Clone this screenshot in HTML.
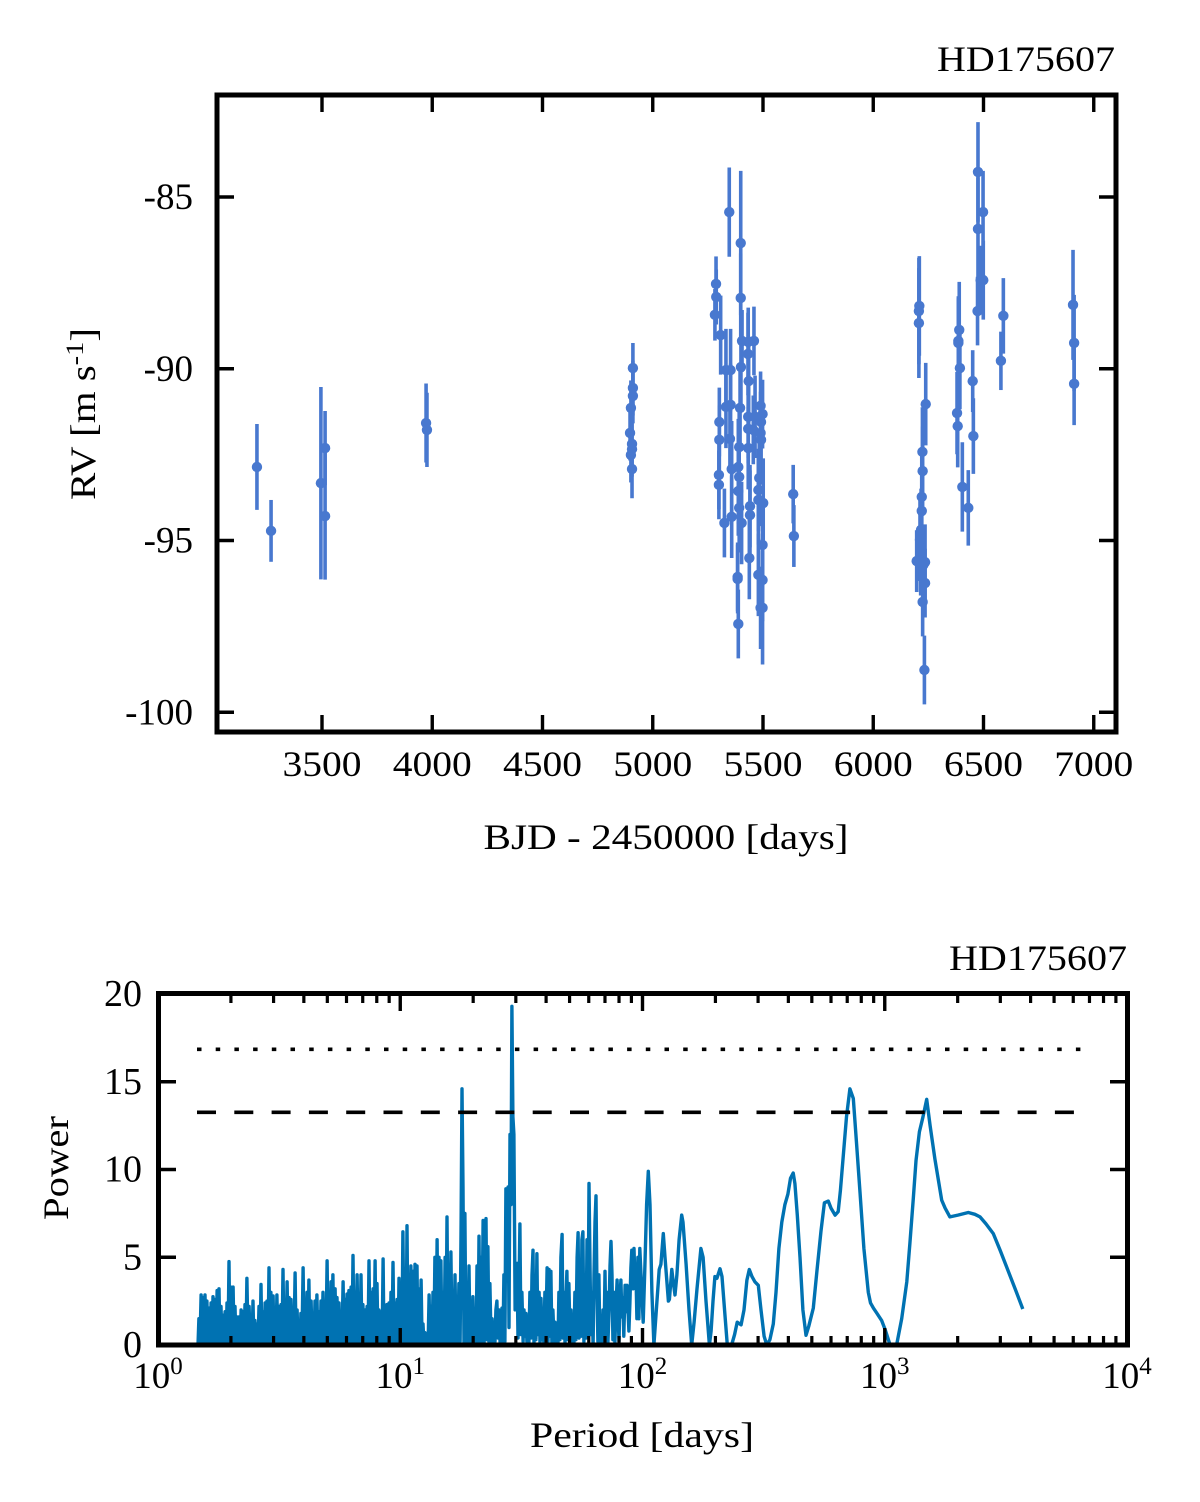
<!DOCTYPE html>
<html lang="en">
<head>
<meta charset="utf-8">
<title>HD175607 radial velocity and periodogram</title>
<style>
html,body{margin:0;padding:0;background:#fff;}
svg{display:block;}
text{font-family:"Liberation Serif",serif;font-size:36px;fill:#000;}
</style>
</head>
<body>
<svg id="fig" xmlns="http://www.w3.org/2000/svg" width="1200" height="1502" viewBox="0 0 1200 1502">
  <g id="rv-panel">
    <text x="1115" y="71" text-anchor="end" textLength="178" lengthAdjust="spacingAndGlyphs">HD175607</text>
    <g id="rv-marks"></g>
    <g id="rv-axes"></g>
    <rect x="217" y="95" width="899" height="637" fill="none" stroke="#000" stroke-width="5"/>
    <text x="666" y="849" text-anchor="middle" textLength="365" lengthAdjust="spacingAndGlyphs">BJD - 2450000 [days]</text>
    <text transform="translate(95,414) rotate(-90)" text-anchor="middle" textLength="172" lengthAdjust="spacingAndGlyphs">RV [m s<tspan font-size="25" dy="-12">-1</tspan><tspan dy="12">]</tspan></text>
  </g>
  <g id="pg-panel">
    <text x="1127" y="970" text-anchor="end" textLength="178" lengthAdjust="spacingAndGlyphs">HD175607</text>
    <g id="pg-marks"></g>
    <g id="pg-axes"></g>
    <rect x="158.5" y="993.5" width="969" height="351.5" fill="none" stroke="#000" stroke-width="5"/>
    <text x="642" y="1447" text-anchor="middle" textLength="224" lengthAdjust="spacingAndGlyphs">Period [days]</text>
    <text transform="translate(68,1168) rotate(-90)" text-anchor="middle" textLength="104" lengthAdjust="spacingAndGlyphs">Power</text>
  </g>
</svg>
<script>
// ---------- RV panel data ----------
const bjd = [3205,3269,3495,3514,3514,3972,3976,
 4910,4910,4910,4901,4897,4906,4906,4901,4906,
 5347,5399,5287,5288,5399,5282,5308,5405,5433,5459,5432,5400,5332,5353,5435,5332,5353,5396,5489,5498,5433,5464,5491,5302,5433,5456,5489,5302,5350,5491,5392,5433,5358,5388,5300,5300,5392,5483,5388,5479,5479,5501,5441,5392,5358,5441,5325,5403,5498,5438,5479,5498,5385,5385,5498,5489,5388,5637,5640,
 6209,6207,6207,6238,6223,6224,6220,6220,6217,6212,6197,6215,6235,6227,6235,6224,6232,
 6390,6386,6386,6393,6380,6383,6404,6431,6451,6454,6475,6475,6498,6487,6499,6473,6590,6579,6906,6911,6911];
const rv = [-92.86,-94.72,-93.33,-92.31,-94.29,-91.58,-91.78,
 -89.98,-90.56,-90.79,-91.14,-91.87,-92.19,-92.34,-92.51,-92.92,
 -85.44,-86.34,-87.53,-87.91,-87.94,-88.43,-89.02,-89.19,-89.22,-89.19,-89.57,-89.95,-90.04,-90.04,-90.36,-91.11,-91.05,-91.14,-91.08,-91.32,-91.4,-91.4,-91.55,-91.55,-91.75,-91.78,-91.87,-92.07,-92.04,-92.07,-92.28,-92.31,-92.92,-92.86,-93.09,-93.38,-93.15,-93.18,-93.56,-93.53,-93.82,-93.91,-94.0,-94.05,-94.31,-94.26,-94.49,-94.49,-95.13,-95.51,-96.0,-96.15,-96.06,-96.12,-96.96,-96.96,-97.43,-93.65,-94.87,
 -88.17,-88.32,-88.67,-91.03,-92.42,-92.98,-93.73,-94.14,-94.69,-94.98,-95.6,-95.6,-95.63,-95.71,-96.24,-96.79,-98.77,
 -88.87,-89.19,-89.25,-89.98,-91.29,-91.67,-93.44,-94.05,-90.36,-91.96,-84.27,-85.93,-85.44,-87.42,-87.42,-88.32,-88.46,-89.77,-88.14,-89.25,-90.44];
const rvErr = [1.25,0.9,2.8,1.08,1.85,1.15,1.08,
 0.73,0.8,0.8,0.8,0.8,0.8,0.8,0.8,0.85,
 1.3,2.1,0.8,0.8,1.3,0.75,1.15,0.9,1.0,1.0,1.2,1.2,1.2,1.2,1.3,1.2,1.2,1.2,1.0,1.0,1.2,1.2,1.2,1.0,1.0,1.0,1.2,1.0,1.0,1.3,1.2,1.2,1.4,1.4,1.0,1.0,1.2,1.4,1.3,1.2,1.3,1.3,1.2,1.3,1.2,1.3,1.0,1.2,1.2,1.2,1.2,1.2,1.0,1.0,1.65,1.2,1.0,0.85,0.9,
 1.45,1.55,1.6,1.2,1.3,1.3,1.2,1.2,1.2,1.2,0.9,1.0,1.1,1.1,1.0,1.0,1.0,
 1.4,1.3,1.3,1.2,1.2,1.2,1.3,1.1,0.9,1.1,1.45,1.5,1.2,1.0,1.15,1.0,1.1,0.85,1.6,1.4,1.2];
const rvXTicks = [3500,4000,4500,5000,5500,6000,6500,7000];
const rvYTicks = [-85,-90,-95,-100];

// ---------- Periodogram data ----------
const log10Period = [
 .161,.165,.169,.173,.178,.182,.186,.190,.194,.198,
 .202,.206,.211,.215,.219,.223,.227,.231,.235,.240,
 .244,.248,.252,.256,.260,.264,.268,.273,.277,.281,
 .285,.289,.293,.297,.301,.306,.310,.314,.318,.322,
 .326,.330,.334,.339,.343,.347,.351,.355,.359,.363,
 .367,.372,.376,.380,.384,.388,.392,.396,.400,.405,
 .409,.413,.417,.421,.425,.429,.433,.438,.442,.446,
 .450,.454,.458,.462,.466,.471,.475,.479,.483,.487,
 .491,.495,.499,.504,.508,.512,.516,.520,.524,.528,
 .533,.537,.541,.545,.549,.553,.557,.561,.566,.570,
 .574,.578,.582,.586,.590,.594,.599,.603,.607,.611,
 .615,.619,.623,.627,.632,.636,.640,.644,.648,.652,
 .656,.660,.665,.669,.673,.677,.681,.685,.689,.693,
 .698,.702,.706,.710,.714,.718,.722,.726,.731,.735,
 .739,.743,.747,.751,.755,.759,.764,.768,.772,.776,
 .780,.784,.788,.792,.797,.801,.805,.809,.813,.817,
 .822,.826,.830,.834,.838,.842,.846,.850,.855,.859,
 .863,.867,.871,.875,.879,.883,.888,.892,.896,.900,
 .904,.908,.912,.916,.921,.925,.929,.933,.937,.941,
 .945,.950,.954,.958,.962,.966,.970,.974,.978,.983,
 .987,.991,.995,.999,1.003,1.007,1.011,1.016,1.020,1.024,
 1.028,1.032,1.036,1.040,1.044,1.049,1.053,1.057,1.061,1.065,
 1.069,1.073,1.077,1.082,1.086,1.090,1.094,1.098,1.102,1.106,
 1.110,1.115,1.119,1.123,1.127,1.131,1.135,1.139,1.143,1.148,
 1.152,1.156,1.160,1.164,1.168,1.172,1.176,1.181,1.185,1.189,
 1.193,1.197,1.201,1.205,1.209,1.214,1.218,1.222,1.226,1.230,
 1.234,1.238,1.242,1.247,1.251,1.255,1.259,1.263,1.267,1.271,
 1.276,1.280,1.284,1.288,1.292,1.296,1.300,1.304,1.309,1.313,
 1.317,1.321,1.325,1.329,1.333,1.337,1.342,1.346,1.350,1.354,
 1.358,1.362,1.366,1.370,1.375,1.379,1.383,1.387,1.391,1.395,
 1.399,1.403,1.408,1.412,1.416,1.420,1.424,1.428,1.432,1.436,
 1.441,1.445,1.449,1.453,1.457,1.461,1.465,1.469,1.474,1.478,
 1.482,1.486,1.490,1.494,1.498,1.502,1.507,1.511,1.515,1.519,
 1.523,1.527,1.531,1.535,1.540,1.544,1.548,1.552,1.556,1.560,
 1.564,1.568,1.573,1.577,1.581,1.585,1.589,1.593,1.597,1.601,
 1.606,1.610,1.614,1.618,1.622,1.626,1.630,1.635,1.639,1.643,
 1.647,1.651,1.655,1.659,1.663,1.668,1.672,1.676,1.680,1.684,
 1.688,1.692,1.696,1.701,1.705,1.709,1.713,1.717,1.721,1.725,
 1.730,1.734,1.738,1.742,1.746,1.750,1.754,1.758,1.763,1.767,
 1.771,1.775,1.779,1.783,1.787,1.791,1.796,1.800,1.804,1.808,
 1.812,1.816,1.820,1.824,1.829,1.833,1.837,1.841,1.845,1.849,
 1.853,1.857,1.862,1.866,1.870,1.874,1.878,1.882,1.886,1.890,
 1.895,1.899,1.903,1.907,1.911,1.915,1.919,1.923,1.928,1.932,
 1.936,1.940,1.944,1.948,1.952,1.956,1.961,1.965,1.969,1.973,
 1.977,1.981,1.985,1.989,
 2.003,2.010,2.017,2.024,2.031,2.039,2.047,2.056,2.069,2.076,2.086,2.093,2.107,2.111,2.121,2.126,2.134,2.142,2.151,2.162,
 2.167,2.180,2.192,2.203,2.213,2.225,2.241,2.250,2.262,2.276,2.283,2.291,2.299,2.307,2.320,2.328,2.341,2.350,2.368,2.380,
 2.391,2.407,2.419,2.431,2.441,2.452,2.464,2.478,2.489,2.502,2.513,2.526,2.540,2.551,2.563,2.575,2.588,2.600,2.611,2.622,
 2.629,2.639,2.650,2.662,2.675,2.687,2.705,2.720,2.737,2.751,2.767,2.778,2.795,2.808,2.817,2.829,2.842,2.856,2.870,2.883,
 2.898,2.914,2.932,2.941,2.953,2.968,2.987,3.001,3.022,3.049,3.070,3.091,3.104,3.118,3.129,3.143,3.158,3.173,3.187,3.207,
 3.235,3.249,3.269,3.302,3.345,3.372,3.393,3.418,3.448,3.476,3.503,3.538,3.570];
const power = [
 0,0,1.5,0,2.85,0,2.7,0,2.85,.1,
 2.5,0,2.1,0,2.4,0,2.75,.1,2.6,0,
 3.1,0,3.2,0,2.2,0,1.7,0,1.9,0,
 2.4,.1,4.75,0,3.3,0,3.3,0,2.2,0,
 1.6,0,1.6,0,2,0,1.9,.1,2.3,0,
 3.8,0,2.2,.2,1.1,0,2.5,0,1.4,0,
 1.2,0,2.2,0,3.45,0,1.9,0,2.4,0,
 2.5,0,4.4,.1,3,0,2.8,0,2.1,0,
 2.85,0,2.2,0,2.3,.1,4.3,0,2.4,0,
 3.6,0,2.7,0,2.6,0,1.5,0,4.1,0,
 2,0,1.2,0,1.8,0,4.4,0,1.5,0,
 3,.1,3.7,0,2.5,0,1.8,.1,2.5,0,
 2.85,0,1.9,0,2.5,0,3,0,2,0,
 4.8,.1,2.3,0,3.6,0,4,0,3.2,0,
 2.7,0,2.4,0,1.4,0,3.6,.1,2.6,0,
 2.9,0,3.1,0,3.3,0,5.1,.2,3,0,
 4,0,2.8,0,4,0,2.3,0,2,0,
 2.2,0,4.8,.1,3,0,3.2,0,4.8,0,
 3.5,0,2,0,1.9,0,4.9,0,2,0,
 2.3,0,2.4,.1,3,0,4.7,0,2.4,0,
 2.6,0,3.8,0,3,.1,6.45,0,3.8,0,
 6.8,0,4,0,4.5,0,4.2,.1,4.6,0,
 4.5,0,3.2,0,3.7,0,1.2,0,.7,.1,
 .5,0,2.85,0,2.2,.1,3,0,5,0,
 6,0,5,0,4.8,.1,3,0,5,0,
 7.3,0,4,.1,5.3,0,2.5,0,4,.1,
 2,0,3.5,.2,7,14.6,9,0,7.5,0,
 3.5,.1,4.5,0,2.4,.2,2.75,0,1.8,0,
 4.5,.1,6.2,0,5,.2,7.1,0,6.5,7.2,
 .3,5.6,.2,3.5,.1,1.5,0,1.2,.2,2,
 2.5,.4,2,.1,1.5,2.1,.1,4,.2,8.9,
 6,9,1,12,8,19.3,13,12,2,4.6,
 4.65,.4,3,6.9,.6,3,.2,2,.5,1.8,
 .2,1.5,.1,3,.4,4,5.4,.1,3,.3,
 5.2,.6,3,.1,2.65,.3,1.5,.1,3,.4,
 4.4,.2,4.3,.5,4.2,.1,2,.2,1.3,0,
 1.2,.1,3,.3,5,6.3,.4,3,.1,2.5,
 4.2,.3,3.5,.1,2,.2,1,0,3,.3,
 5,6.4,.4,4,.5,6,6.45,.2,4,.4,
 6,.5,9.2,5,.6,3,0,4,7,8.5,
 3,.2,4,0,1.5,.1,2,.2,4.2,.6,
 3,.1,2,4.5,5.9,4,.3,3,.1,2,
 3.7,2,.2,2.7,3.7,1.6,2.7,.5,3.4,1.9,
 3.4,2,.8,2.4,4.4,5.4,3.2,5.5,3.5,4,
 1.5,5,1.5,5.5,
 1.3,4.5,8,9.9,8,3,0,1.8,4.3,4.6,6.35,5,2.5,2.6,4.3,3.7,2.85,4,6,7.4,
 7,4.6,2,0,1.3,3.2,5.5,5,2.5,0,.8,2.5,3.9,3.8,4.35,3.9,1.6,0,0,.6,
 1.3,1.15,2,3.7,4.3,3.9,3.6,3.4,2,.5,0,.3,1.2,3,5.5,7,8,8.6,9.5,9.8,
 9.2,7.4,5,2,.55,1.1,2.1,4.2,6.5,8.1,8.2,7.8,7.4,7.6,8.8,10.8,13,14.6,14.05,11.6,
 8.7,5.5,3,2.4,2.1,1.8,1.4,.9,0,0,1.5,3.6,5.8,8.35,10.5,12.15,13,14,12.5,10.6,
 8.25,7.8,7.3,7.4,7.55,7.45,7.3,6.9,6.35,5.4,4.45,3.2,2.05];
const falseAlarmLevels = [16.85,13.26];
const falseAlarmNames = ['dotted-threshold-line','dashed-threshold-line'];
const thresholdLogRange = [0.161,3.83];
const pgXExponents = [0,1,2,3,4];
const pgMinorMultipliers = [2,3,4,5,6,7,8,9];
const pgYTicks = [0,5,10,15,20];

// ---------- Axis functions ----------
const NS = 'http://www.w3.org/2000/svg';
const rvX = v => 322 + (v - 3500) * 0.2205;
const rvY = v => 197 + (-85 - v) * 34.35;
const pgX = l => 158 + l * 242.25;
const pgY = v => 1345 - v * 17.55;

function make(tag, attrs, parent) {
  const el = document.createElementNS(NS, tag);
  for (const k in attrs) el.setAttribute(k, attrs[k]);
  parent.appendChild(el);
  return el;
}
function tickLine(parent, x1, y1, x2, y2, w) {
  const t = make('line', {x1, y1, x2, y2, stroke: '#000', 'stroke-width': w}, parent);
  
  
  return t;
}

// ---------- RV panel ----------
const rvMarks = document.getElementById('rv-marks');
const rvAxes = document.getElementById('rv-axes');
const BLUE = '#4878CF';
bjd.forEach((d, i) => {
  const bar = make('line', {x1: rvX(d), x2: rvX(d), y1: rvY(rv[i] + rvErr[i]), y2: rvY(rv[i] - rvErr[i]), stroke: BLUE, 'stroke-width': 3.6}, rvMarks);
  
  
});
bjd.forEach((d, i) => {
  const dot = make('circle', {cx: rvX(d), cy: rvY(rv[i]), r: 5.2, fill: BLUE}, rvMarks);
  
  
});
rvXTicks.forEach(v => {
  const x = rvX(v);
  tickLine(rvAxes, x, 732, x, 715, 3.4);
  tickLine(rvAxes, x, 95, x, 112, 3.4);
  const t = make('text', {x, y: 776, 'text-anchor': 'middle', textLength: 79, lengthAdjust: 'spacingAndGlyphs'}, rvAxes);
  t.textContent = String(v);
  
  
});
rvYTicks.forEach(v => {
  const y = rvY(v);
  tickLine(rvAxes, 217, y, 234, y, 3.4);
  tickLine(rvAxes, 1116, y, 1099, y, 3.4);
  const t = make('text', {x: 193, y: y + 12, 'text-anchor': 'end', 'font-size': 37, style: 'font-size:37px'}, rvAxes);
  t.textContent = String(v);
  
  
});

// ---------- Periodogram panel ----------
const pgMarks = document.getElementById('pg-marks');
const pgAxes = document.getElementById('pg-axes');
const curvePoints = log10Period.map((l, i) => pgX(l).toFixed(1) + ',' + pgY(power[i]).toFixed(1)).join(' ');
const curve = make('polyline', {points: curvePoints, fill: 'none', stroke: '#0072B2', 'stroke-width': 3.4, 'stroke-linejoin': 'round'}, pgMarks);


falseAlarmLevels.forEach((lvl, i) => {
  const line = make('line', {x1: pgX(thresholdLogRange[0]), x2: pgX(thresholdLogRange[1]), y1: pgY(lvl), y2: pgY(lvl), stroke: '#000', 'stroke-width': 3.6, 'stroke-dasharray': i === 0 ? '4.5 14.2' : '19 18.3'}, pgMarks);
  
  
});
pgXExponents.forEach((e, i) => {
  const x = pgX(e);
  tickLine(pgAxes, x, 1345, x, 1328, 3.4);
  tickLine(pgAxes, x, 994, x, 1011, 3.4);
  const t = make('text', {x, y: 1388, 'text-anchor': 'middle'}, pgAxes);
  
  
  const base = make('tspan', {style: 'font-size:37px'}, t);
  base.textContent = '10';
  const sup = make('tspan', {style: 'font-size:25px', dy: -14}, t);
  sup.textContent = String(e);
  if (i < pgXExponents.length - 1) {
    pgMinorMultipliers.forEach(m => {
      const mx = pgX(e + Math.log10(m));
      tickLine(pgAxes, mx, 1345, mx, 1336, 3.2);
      tickLine(pgAxes, mx, 994, mx, 1003, 3.2);
    });
  }
});
pgYTicks.forEach(v => {
  const y = pgY(v);
  tickLine(pgAxes, 158, y, 176, y, 3.4);
  tickLine(pgAxes, 1127, y, 1110, y, 3.4);
  const t = make('text', {x: 142, y: y + 12, 'text-anchor': 'end', style: 'font-size:38px'}, pgAxes);
  t.textContent = String(v);
  
  
});
</script>
</body>
</html>
